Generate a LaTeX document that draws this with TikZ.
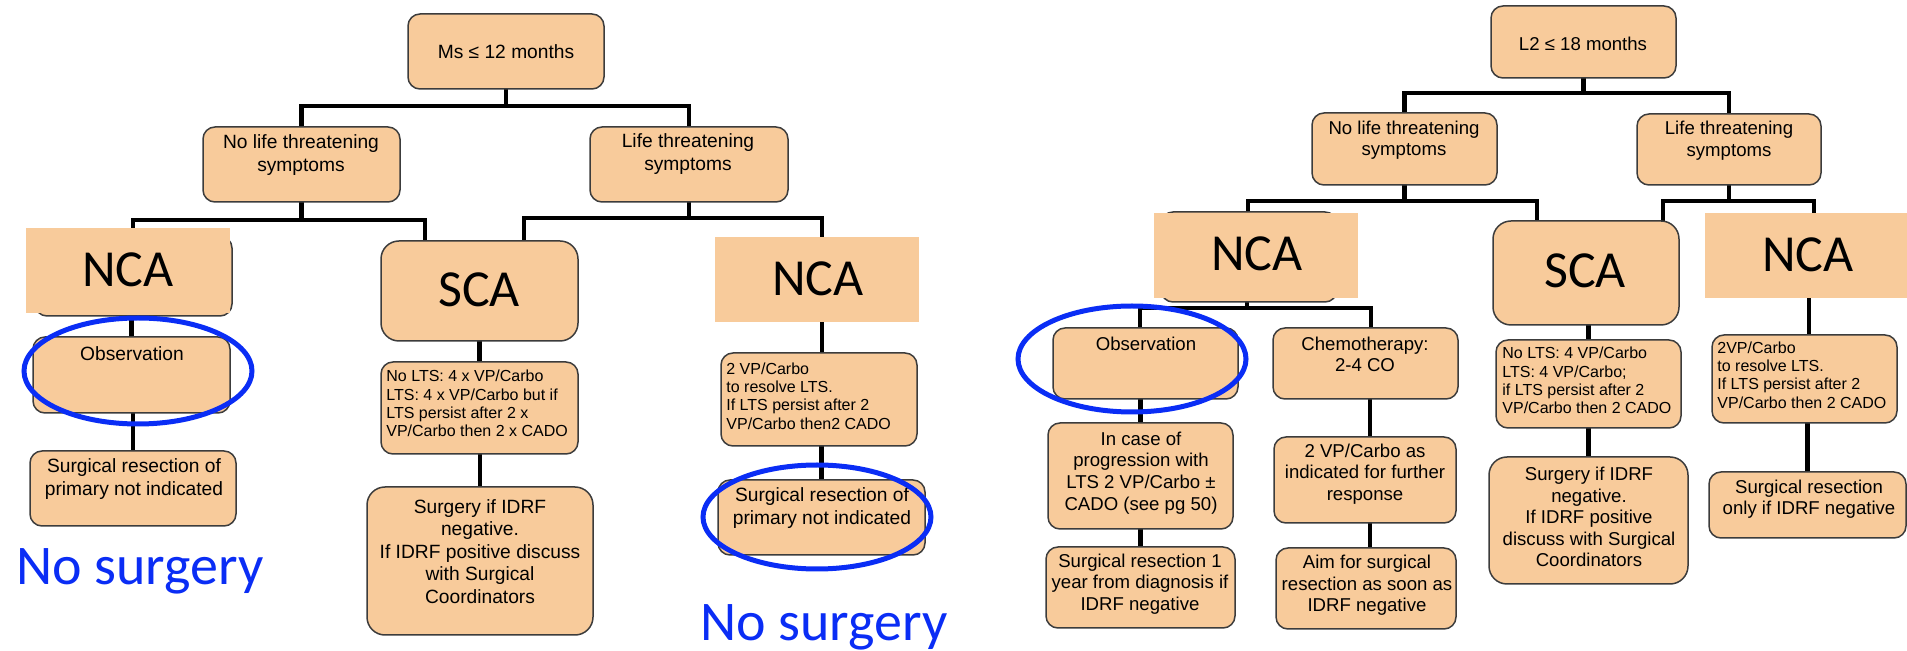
\documentclass[tikz,border=0pt]{standalone}
\usepackage{fontspec}
\setmainfont{Liberation Sans}
\newfontfamily\calib{Carlito}
\usetikzlibrary{fit,calc}
\definecolor{peach}{RGB}{248,203,155}
\definecolor{edgegray}{RGB}{60,60,60}
\definecolor{markblue}{RGB}{10,45,245}
\pgfdeclarelayer{bg}
\pgfsetlayers{bg,main}
\begin{document}
\begin{tikzpicture}[x=0.5pt,y=-0.5pt,
  box/.style={draw=edgegray,line width=0.75pt,fill=peach,rounded corners=6pt,inner sep=0pt,outer sep=0pt},
  bigbox/.style={box,rounded corners=9pt},
  flat/.style={draw=none,fill=peach,inner sep=0pt,outer sep=0pt},
  conn/.style={line width=2.2pt,black},
  txtL/.style={font=\fontsize{9.6}{11.3}\selectfont,align=center,inner sep=0pt},
  txtR/.style={font=\fontsize{9.3}{10.8}\selectfont,align=center,inner sep=0pt},
  small/.style={font=\fontsize{8}{9.2}\selectfont,align=left,inner sep=0pt,anchor=west},
  big/.style={font=\calib\fontsize{26}{28}\selectfont,inner sep=0pt},
  blueoval/.style={draw=markblue,line width=2.5pt},
  marktext/.style={font=\calib\fontsize{28}{30}\selectfont,text=markblue,inner sep=0pt,anchor=base}]
\useasboundingbox (0,0) rectangle (1907,651);
\clip (0,0) rectangle (1907,651);

% ---------- left tree ----------
\node[box,fit={(408,14) (604,89)}] (ms) {};
\node[txtL] (tms) at (506,52) {Ms ≤ 12 months};
\node[box,fit={(203,127) (400,202)}] (nolife) {};
\node[txtL,font=\fontsize{9.6}{11.5}\selectfont] (tnolife) at (301,155) {No life threatening\\symptoms};
\node[box,fit={(590,127) (788,202)}] (life) {};
\node[txtL,font=\fontsize{9.6}{11.5}\selectfont] (tlife) at (688,154) {Life threatening\\symptoms};

\node[box,fit={(35,236) (232,316)}] (nca1u) {};
\node[flat,fit={(26,228) (230,313)}] (nca1) {};
\node[big] (tnca1) at (128,270) {NCA};
\node[bigbox,fit={(381,241) (578,341)}] (sca) {};
\node[big] (tsca) at (479,290) {SCA};
\node[flat,fit={(715,237) (919,322)}] (nca2) {};
\node[big] (tnca2) at (818,278.5) {NCA};

\node[box,fit={(33,337) (230,413)}] (obs1) {};
\node[txtL] (tobs1) at (132,354) {Observation};
\node[box,fit={(30,451) (236,526)}] (surg1) {};
\node[txtL] (tsurg1) at (134,479) {Surgical resection of\\primary not indicated};

\node[box,fit={(381,362) (578,454)}] (nolts1) {};
\node[small] (tnolts1) at (386,403.5) {No LTS: 4 x VP/Carbo\\LTS: 4 x VP/Carbo but if\\LTS persist after 2 x\\VP/Carbo then 2 x CADO};
\node[bigbox,fit={(367,487) (593,635)}] (surgery1) {};
\node[txtL] (tsurgery1) at (480,551.5) {Surgery if IDRF\\negative.\\If IDRF positive discuss\\with Surgical\\Coordinators};

\node[box,fit={(721,353) (917,446)}] (vp2) {};
\node[small] (tvp2) at (726,396) {2 VP/Carbo\\to resolve LTS.\\If LTS persist after 2\\VP/Carbo then2 CADO};
\node[box,fit={(718,480) (925,555)}] (surg2) {};
\node[txtL] (tsurg2) at (822,508) {Surgical resection of\\primary not indicated};

% ---------- right tree ----------
\node[box,fit={(1491,6) (1676,78)}] (l2) {};
\node[txtR] (tl2) at (1583,44) {L2 ≤ 18 months};
\node[box,fit={(1312,113) (1497,185)}] (nolife2) {};
\node[txtR] (tnolife2) at (1404,140) {No life threatening\\symptoms};
\node[box,fit={(1637,114) (1821,185)}] (life2) {};
\node[txtR] (tlife2) at (1729,140.5) {Life threatening\\symptoms};

\node[box,fit={(1161,212) (1337,302)}] (nca3u) {};
\node[flat,fit={(1154,213) (1358,298)}] (nca3) {};
\node[big] (tnca3) at (1257,254) {NCA};
\node[bigbox,fit={(1493,221) (1679,325)}] (sca2) {};
\node[big] (tsca2) at (1585,271) {SCA};
\node[flat,fit={(1705,213) (1912,298)}] (nca4) {};
\node[big] (tnca4) at (1808,254.5) {NCA};

\node[box,fit={(1053,328) (1238,399)}] (obs2) {};
\node[txtR] (tobs2) at (1146,344) {Observation};
\node[box,fit={(1273,328) (1458,399)}] (chemo) {};
\node[txtR] (tchemo) at (1365,354.5) {Chemotherapy:\\2-4 CO};
\node[box,fit={(1048,423) (1233,529)}] (incase) {};
\node[txtR] (tincase) at (1141,473) {In case of\\progression with\\LTS 2 VP/Carbo ±\\CADO (see pg 50)};
\node[box,fit={(1046,547) (1235,628)}] (surg3) {};
\node[txtR] (tsurg3) at (1140,584) {Surgical resection 1\\year from diagnosis if\\IDRF negative};
\node[box,fit={(1274,437) (1456,523)}] (vp3) {};
\node[txtR] (tvp3) at (1365,474) {2 VP/Carbo as\\indicated for further\\response};
\node[box,fit={(1276,548) (1456,629)}] (aim) {};
\node[txtR] (taim) at (1367,585.5) {Aim for surgical\\resection as soon as\\IDRF negative};

\node[box,fit={(1496,340) (1681,428)}] (nolts2) {};
\node[small] (tnolts2) at (1502,380.5) {No LTS: 4 VP/Carbo\\LTS: 4 VP/Carbo;\\if LTS persist after 2\\VP/Carbo then 2 CADO};
\node[bigbox,fit={(1489,457) (1688,584)}] (surgery2) {};
\node[txtR] (tsurgery2) at (1589,517) {Surgery if IDRF\\negative.\\If IDRF positive\\discuss with Surgical\\Coordinators};

\node[box,fit={(1712,335) (1897,423)}] (vp4) {};
\node[small] (tvp4) at (1717,375) {2VP/Carbo\\to resolve LTS.\\If LTS persist after 2\\VP/Carbo then 2 CADO};
\node[box,fit={(1709,472) (1906,538)}] (surg4) {};
\node[txtR] (tsurg4) at (1809,499) {Surgical resection\\only if IDRF negative};

% ---------- connectors ----------
\begin{pgfonlayer}{bg}
\coordinate (b1) at (506,106);
\draw[conn] (ms.south) -- (b1);
\draw[conn] (nolife.north) |- (b1) -| (life.north);
\coordinate (b2) at (301.5,220);
\draw[conn] (nolife.south) -- (b2);
\draw[conn] ($(nca1.north)+(5,0)$) |- (b2) -| ($(sca.north)+(-54.5,0)$);
\coordinate (b3) at (689,218);
\draw[conn] (life.south) -- (b3);
\draw[conn] ($(sca.north)+(44.5,0)$) |- (b3) -| ($(nca2.north)+(5,0)$);
\draw[conn] (obs1.north) -- (obs1.north |- nca1u.south);
\draw[conn] (surg1.north) -- (surg1.north |- obs1.south);
\draw[conn] (nolts1.north) -- (nolts1.north |- sca.south);
\draw[conn] (surgery1.north) -- (surgery1.north |- nolts1.south);
\draw[conn] ($(vp2.north)+(3,0)$) -- ($(nca2.south)+(5,0)$);
\draw[conn] (surg2.north) -- (surg2.north |- vp2.south);

\coordinate (b4) at (1583.5,93);
\draw[conn] (l2.south) -- (b4);
\draw[conn] (nolife2.north) |- (b4) -| (life2.north);
\coordinate (b5) at (1404.5,201);
\draw[conn] (nolife2.south) -- (b5);
\draw[conn] ($(nca3.north)+(-8,0)$) |- (b5) -| ($(sca2.north)+(-49,0)$);
\coordinate (b6) at (1729,201);
\draw[conn] (life2.south) -- (b6);
\draw[conn] ($(sca2.north)+(77,0)$) |- (b6) -| ($(nca4.north)+(5.5,0)$);
\coordinate (b7) at (1247,308);
\draw[conn] ($(nca3.south)+(-9,0)$) -- (b7);
\draw[conn] ($(obs2.north)+(-5.5,0)$) |- (b7) -| ($(chemo.north)+(5.5,0)$);
\draw[conn] (incase.north) -- (incase.north |- obs2.south);
\draw[conn] (surg3.north) -- (surg3.north |- incase.south);
\draw[conn] ($(vp3.north)+(5,0)$) -- ($(chemo.south)+(4.5,0)$);
\draw[conn] ($(aim.north)+(4,0)$) -- ($(vp3.south)+(5,0)$);
\draw[conn] (nolts2.north) -- (nolts2.north |- sca2.south);
\draw[conn] (surgery2.north) -- (surgery2.north |- nolts2.south);
\draw[conn] ($(vp4.north)+(4.5,0)$) -- ($(vp4.north)+(4.5,-37)$);
\draw[conn] (surg4.north) -- (surg4.north |- vp4.south);
\end{pgfonlayer}

% ---------- blue annotations ----------
\draw[blueoval] (138,371) ellipse [x radius=57pt, y radius=26.5pt];
\draw[blueoval] (817,517) ellipse [x radius=57pt, y radius=26pt];
\draw[blueoval] (1132,359) ellipse [x radius=57pt, y radius=26.5pt];
\node[marktext] (ns1) at (140,585) {No surgery};
\node[marktext] (ns2) at (824,641) {No surgery};
\end{tikzpicture}
\end{document}
